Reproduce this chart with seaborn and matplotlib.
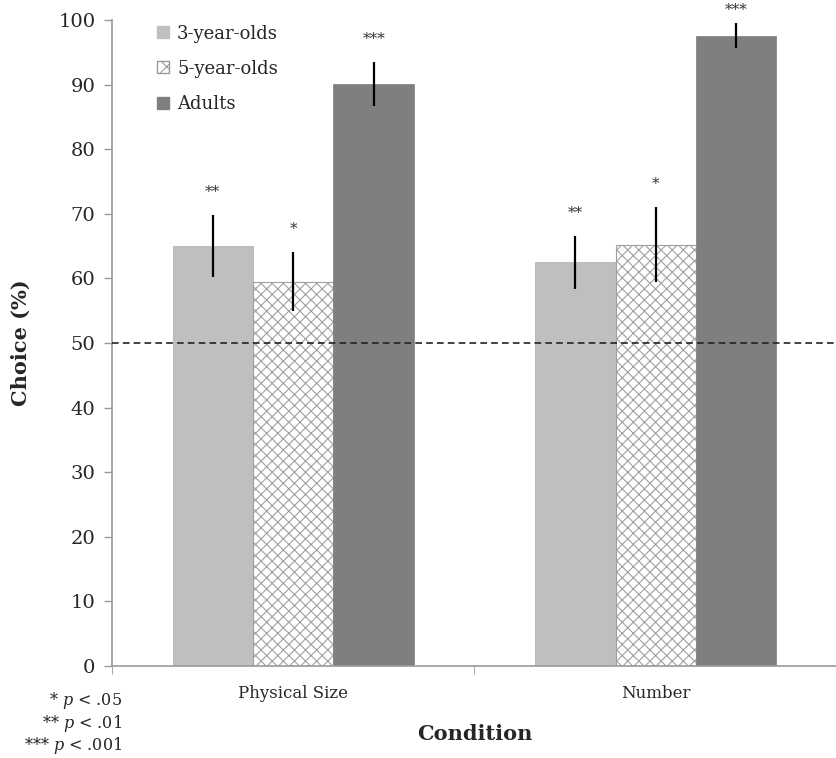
import numpy as np
import pandas as pd
import seaborn as sns
import matplotlib
import matplotlib.pyplot as plt
from matplotlib.patches import Patch

# data
conditions = ['Physical Size', 'Number']
groups = ['3-year-olds', '5-year-olds', 'Adults']
choice = {
    '3-year-olds': [65.0, 62.5],
    '5-year-olds': [59.5, 65.2],
    'Adults': [90.1, 97.6],
}
sem = {
    '3-year-olds': [4.8, 4.1],
    '5-year-olds': [4.6, 5.8],
    'Adults': [3.4, 1.9],
}
stars = {
    '3-year-olds': ['**', '**'],
    '5-year-olds': ['*', '*'],
    'Adults': ['***', '***'],
}
chance = 50
yticks = [0, 10, 20, 30, 40, 50, 60, 70, 80, 90, 100]
footnotes = ['* $p$ < .05', '** $p$ < .01', '*** $p$ < .001']

rows = []
for g in groups:
    for c, v in zip(conditions, choice[g]):
        rows.append({'Condition': c, 'Group': g, 'Choice': v})
df = pd.DataFrame(rows)

sns.set_style('white')
plt.rcParams['font.family'] = ['DejaVu Serif']
plt.rcParams['mathtext.fontset'] = 'dejavuserif'
matplotlib.rcParams['hatch.color'] = '#a0a0a0'
matplotlib.rcParams['hatch.linewidth'] = 0.8

fig = plt.figure(figsize=(8.37, 7.58), dpi=100)
ax = fig.add_axes([0.1338, 0.1214, 0.8662, 0.8522])

palette = {'3-year-olds': '#bfbfbf', '5-year-olds': '#ffffff', 'Adults': '#7f7f7f'}
sns.barplot(data=df, x='Condition', y='Choice', hue='Group', order=conditions,
            hue_order=groups, palette=palette, width=0.666, errorbar=None,
            legend=False, ax=ax, saturation=1)

for g, cont in zip(groups, ax.containers):
    for i, bar in enumerate(cont):
        xc = bar.get_x() + bar.get_width() / 2
        if g == '5-year-olds':
            bar.set_hatch('xxx')
            bar.set_edgecolor('#a0a0a0')
            bar.set_linewidth(0.8)
        else:
            bar.set_edgecolor('#b5b5b5' if g == '3-year-olds' else '#888888')
            bar.set_linewidth(0.6)
        ax.errorbar(xc, choice[g][i], yerr=sem[g][i], color='black', lw=1.6,
                    capsize=0, zorder=5)
        ystar = min(choice[g][i] + sem[g][i] + 3.6, 101.6)
        ax.text(xc, ystar, stars[g][i], ha='center', va='center', fontsize=11,
                color='#333333', clip_on=False)

ax.axhline(chance, color='#222222', ls=(0, (4, 2.5)), lw=1.2, zorder=6)

ax.set_ylim(0, 100)
ax.set_xlim(-0.5, 1.473)
ax.set_yticks(yticks)
ax.tick_params(axis='y', labelsize=14, length=6, color='#999999', width=1,
               left=True, pad=6)
ax.set_xticks([0, 1])
ax.set_xticklabels(conditions, fontsize=12)
ax.tick_params(axis='x', length=0, pad=14)
ax.set_xticks([-0.5, 0.5, 1.5], minor=True)
ax.tick_params(axis='x', which='minor', bottom=True, length=6, color='#999999')

for s in ['top', 'right']:
    ax.spines[s].set_visible(False)
for s in ['left', 'bottom']:
    ax.spines[s].set_color('#999999')
    ax.spines[s].set_linewidth(1.2)

ax.set_ylabel('Choice (%)', fontsize=15, fontweight='bold')
ax.set_xlabel('Condition', fontsize=15, fontweight='bold')
ax.yaxis.set_label_coords(-0.112, 0.5)
ax.xaxis.set_label_coords(0.5, -0.09)

handles = [
    Patch(facecolor='#bfbfbf', edgecolor='#bfbfbf', label=groups[0]),
    Patch(facecolor='white', edgecolor='#999999', hatch='xx', label=groups[1]),
    Patch(facecolor='#7f7f7f', edgecolor='#7f7f7f', label=groups[2]),
]
ax.legend(handles=handles, loc='upper left', bbox_to_anchor=(0.04, 1.018),
          frameon=False, fontsize=13, handlelength=0.65, handleheight=0.65,
          handletextpad=0.45, labelspacing=0.95)

for k, t in enumerate(footnotes):
    fig.text(0.146, 0.076 - k * 0.03, t, ha='right', va='center', fontsize=11.5)

fig.savefig('out.png', dpi=100)
